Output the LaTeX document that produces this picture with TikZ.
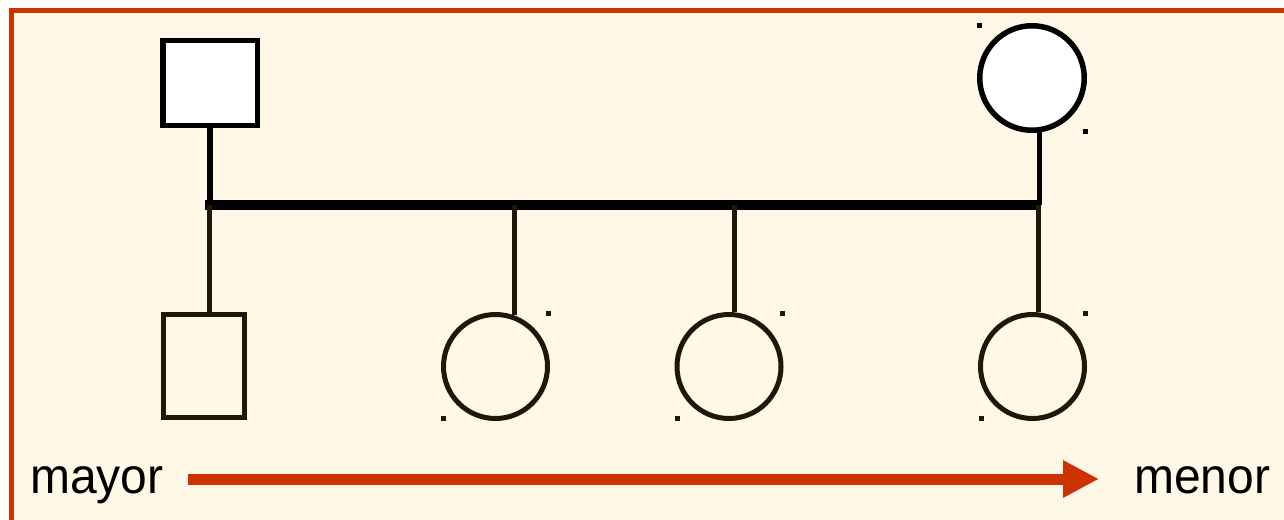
\documentclass[tikz,border=0pt]{standalone}
\usepackage{fontspec}
\setmainfont{Liberation Sans}
\usetikzlibrary{arrows.meta}
\definecolor{framered}{HTML}{CC3300}
\definecolor{cream}{HTML}{FFF8E6}
\definecolor{darkline}{HTML}{1E1808}
\begin{document}
\begin{tikzpicture}[x=1pt,y=-1pt,
  parent/.style={draw=black,fill=white,line width=5.5pt,inner sep=0pt},
  child/.style={draw=darkline,fill=cream,line width=5pt,inner sep=0pt},
  link/.style={draw=black,line width=5.5pt},
  clink/.style={draw=darkline,line width=5pt},
  handle/.style={fill=darkline,draw=none,minimum size=5pt,inner sep=0pt},
  lbl/.style={inner sep=0pt,anchor=base west,font=\fontsize{50}{60}\selectfont}
]
\useasboundingbox (0,0) rectangle (1284,519);
\fill[white] (0,0) rectangle (1284,519);
\draw[framered,fill=cream,line width=5pt] (11,10.5) rectangle (1310,545);

% parents
\node[parent,rectangle,minimum width=94.5pt,minimum height=84.5pt] (father) at (210,83) {};
\node[parent,circle,minimum size=104.5pt] (mother) at (1032,78) {};

% children
\node[child,rectangle,minimum width=81pt,minimum height=103pt] (c1) at (204,366) {};
\node[child,circle,minimum size=104pt] (c2) at (495.5,366.5) {};
\node[child,circle,minimum size=104pt] (c3) at (729,366.5) {};
\node[child,circle,minimum size=104pt] (c4) at (1032.5,366.5) {};

% sibship bar
\coordinate (barL) at (205,205);
\coordinate (barR) at (1041,205);
\draw[link,line width=10pt] (barL) -- (barR);

% parent links
\draw[link] (father.south) -- (father.south |- barL);
\draw[link] (mother.-82) -- (mother.-82 |- barR);

% child links
\draw[clink] ([xshift=5pt]c1.north |- barL) -- ([xshift=5pt]c1.north);
\draw[clink] (c2.70 |- barL) -- (c2.70);
\draw[clink] (c3.84.5 |- barL) -- (c3.84.5);
\draw[clink] (c4.84 |- barL) -- (c4.84);

% small handles
\node[handle,fill=black] (hm1) at (979,26) {};
\node[handle,fill=black] (hm2) at (1085,131) {};
\node[handle] (h21) at (548,313) {};
\node[handle] (h22) at (443,418) {};
\node[handle] (h31) at (782,313) {};
\node[handle] (h32) at (677,418) {};
\node[handle] (h41) at (1085,313) {};
\node[handle] (h42) at (981,418) {};

% age arrow
\coordinate (aL) at (188,479);
\coordinate (aR) at (1099,479);
\draw[framered,line width=11pt,-{Triangle[length=36pt,width=35pt]}] (aL) -- (aR);

\node[lbl] (mayor) at (30,493) {\scalebox{0.96}[1]{mayor}};
\node[lbl] (menor) at (1134,493) {\scalebox{0.96}[1]{menor}};
\end{tikzpicture}
\end{document}
